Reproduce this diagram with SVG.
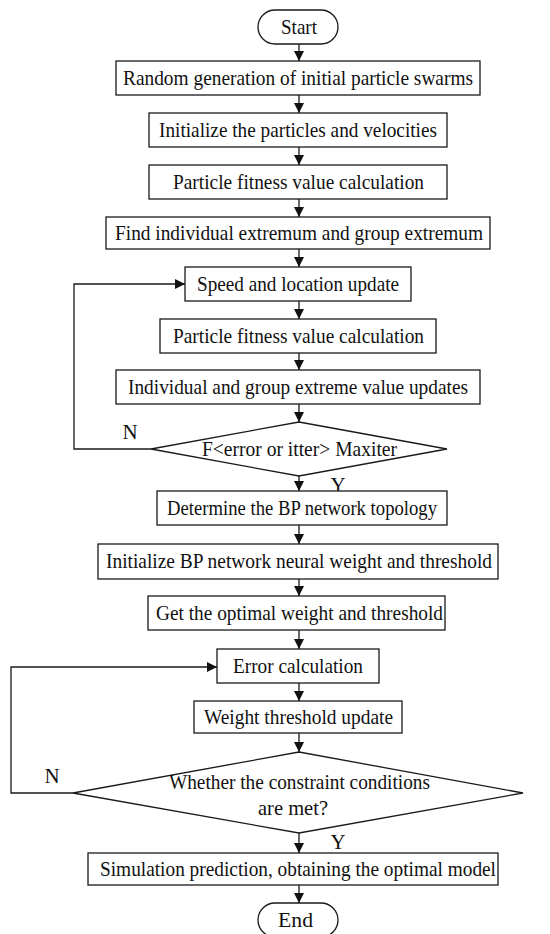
<svg xmlns="http://www.w3.org/2000/svg" width="550" height="934" viewBox="0 0 550 934">
<defs>
<style>
.n{fill:#fff;stroke:#1a1a1a;stroke-width:1.3}
.t{font-family:"Liberation Serif","Times New Roman","DejaVu Serif",serif;font-size:21px;fill:#111;text-anchor:middle}
.c{fill:none;stroke:#1a1a1a;stroke-width:1.3}
</style>
<marker id="ah" viewBox="0 0 10 10" refX="10" refY="5" markerWidth="10" markerHeight="10" markerUnits="userSpaceOnUse" orient="auto">
<path d="M0,0 L10,5 L0,10 Z" fill="#111"/>
</marker>
</defs>
<rect width="550" height="934" fill="#fff"/>
<g id="connectors">
<path class="c" marker-end="url(#ah)" d="M299,44 V61"/>
<path class="c" marker-end="url(#ah)" d="M299,95 V113"/>
<path class="c" marker-end="url(#ah)" d="M299,147 V165"/>
<path class="c" marker-end="url(#ah)" d="M299,199 V217"/>
<path class="c" marker-end="url(#ah)" d="M299,249 V267"/>
<path class="c" marker-end="url(#ah)" d="M299,301 V319"/>
<path class="c" marker-end="url(#ah)" d="M299,353 V370"/>
<path class="c" marker-end="url(#ah)" d="M299,404 V422"/>
<path class="c" marker-end="url(#ah)" d="M299,476 V491"/>
<path class="c" marker-end="url(#ah)" d="M299,525 V544"/>
<path class="c" marker-end="url(#ah)" d="M299,579 V596"/>
<path class="c" marker-end="url(#ah)" d="M299,630 V649"/>
<path class="c" marker-end="url(#ah)" d="M299,683 V701"/>
<path class="c" marker-end="url(#ah)" d="M299,733 V752"/>
<path class="c" marker-end="url(#ah)" d="M299,833 V853"/>
<path class="c" marker-end="url(#ah)" d="M299,885 V903"/>
<path class="c" marker-end="url(#ah)" d="M151,449 H74 V284 H185"/>
<path class="c" marker-end="url(#ah)" d="M73,793 H11 V667 H217"/>
<text class="t" x="130" y="439" font-family="Liberation Serif, serif">N</text>
<text class="t" x="338" y="492" font-family="Liberation Serif, serif">Y</text>
<text class="t" x="52" y="783" font-family="Liberation Serif, serif">N</text>
<text class="t" x="338" y="849" font-family="Liberation Serif, serif">Y</text>
</g>
<g id="start"><rect class="n" x="258" y="10" width="80" height="34" rx="17"/><text class="t" x="299" y="34" textLength="36" lengthAdjust="spacingAndGlyphs">Start</text></g>
<g id="n1"><rect class="n" x="116" y="61" width="364" height="34"/><text class="t" x="298" y="85" textLength="350" lengthAdjust="spacingAndGlyphs">Random generation of initial particle swarms</text></g>
<g id="n2"><rect class="n" x="149" y="113" width="298" height="34"/><text class="t" x="298" y="137" textLength="278" lengthAdjust="spacingAndGlyphs">Initialize the particles and velocities</text></g>
<g id="n3"><rect class="n" x="149" y="165" width="298" height="34"/><text class="t" x="298.5" y="189" textLength="251" lengthAdjust="spacingAndGlyphs">Particle fitness value calculation</text></g>
<g id="n4"><rect class="n" x="106" y="217" width="384" height="32"/><text class="t" x="299" y="240" textLength="368" lengthAdjust="spacingAndGlyphs">Find individual extremum and group extremum</text></g>
<g id="n5"><rect class="n" x="185" y="267" width="226" height="34"/><text class="t" x="298" y="291" textLength="202" lengthAdjust="spacingAndGlyphs">Speed and location update</text></g>
<g id="n6"><rect class="n" x="160" y="319" width="276" height="34"/><text class="t" x="298.5" y="343" textLength="251" lengthAdjust="spacingAndGlyphs">Particle fitness value calculation</text></g>
<g id="n7"><rect class="n" x="116" y="370" width="364" height="34"/><text class="t" x="298" y="394" textLength="340" lengthAdjust="spacingAndGlyphs">Individual and group extreme value updates</text></g>
<g id="d1"><polygon class="n" points="299,422 447,449 299,476 151,449"/><text class="t" x="299.5" y="456" textLength="195" lengthAdjust="spacingAndGlyphs">F&lt;error or itter&gt; Maxiter</text></g>
<g id="n8"><rect class="n" x="157" y="491" width="290" height="34"/><text class="t" x="302" y="515" textLength="270" lengthAdjust="spacingAndGlyphs">Determine the BP network topology</text></g>
<g id="n9"><rect class="n" x="98" y="544" width="400" height="35"/><text class="t" x="299" y="568" textLength="386" lengthAdjust="spacingAndGlyphs">Initialize BP network neural weight and threshold</text></g>
<g id="n10"><rect class="n" x="148" y="596" width="297" height="34"/><text class="t" x="299.5" y="620" textLength="287" lengthAdjust="spacingAndGlyphs">Get the optimal weight and threshold</text></g>
<g id="n11"><rect class="n" x="217" y="649" width="162" height="34"/><text class="t" x="298" y="673" textLength="130" lengthAdjust="spacingAndGlyphs">Error calculation</text></g>
<g id="n12"><rect class="n" x="194" y="701" width="208" height="32"/><text class="t" x="298.5" y="724" textLength="189" lengthAdjust="spacingAndGlyphs">Weight threshold update</text></g>
<g id="d2"><polygon class="n" points="299,752 523,793 299,833 73,793"/><text class="t" x="299.5" y="789" textLength="261" lengthAdjust="spacingAndGlyphs">Whether the constraint conditions</text><text class="t" x="293" y="815" textLength="70" lengthAdjust="spacingAndGlyphs">are met?</text></g>
<g id="n13"><rect class="n" x="88" y="853" width="410" height="32"/><text class="t" x="298" y="876" textLength="396" lengthAdjust="spacingAndGlyphs">Simulation prediction, obtaining the optimal model</text></g>
<g id="end"><rect class="n" x="258" y="903" width="80" height="34" rx="17"/><text class="t" x="295.5" y="927" textLength="35" lengthAdjust="spacingAndGlyphs">End</text></g>
</svg>
